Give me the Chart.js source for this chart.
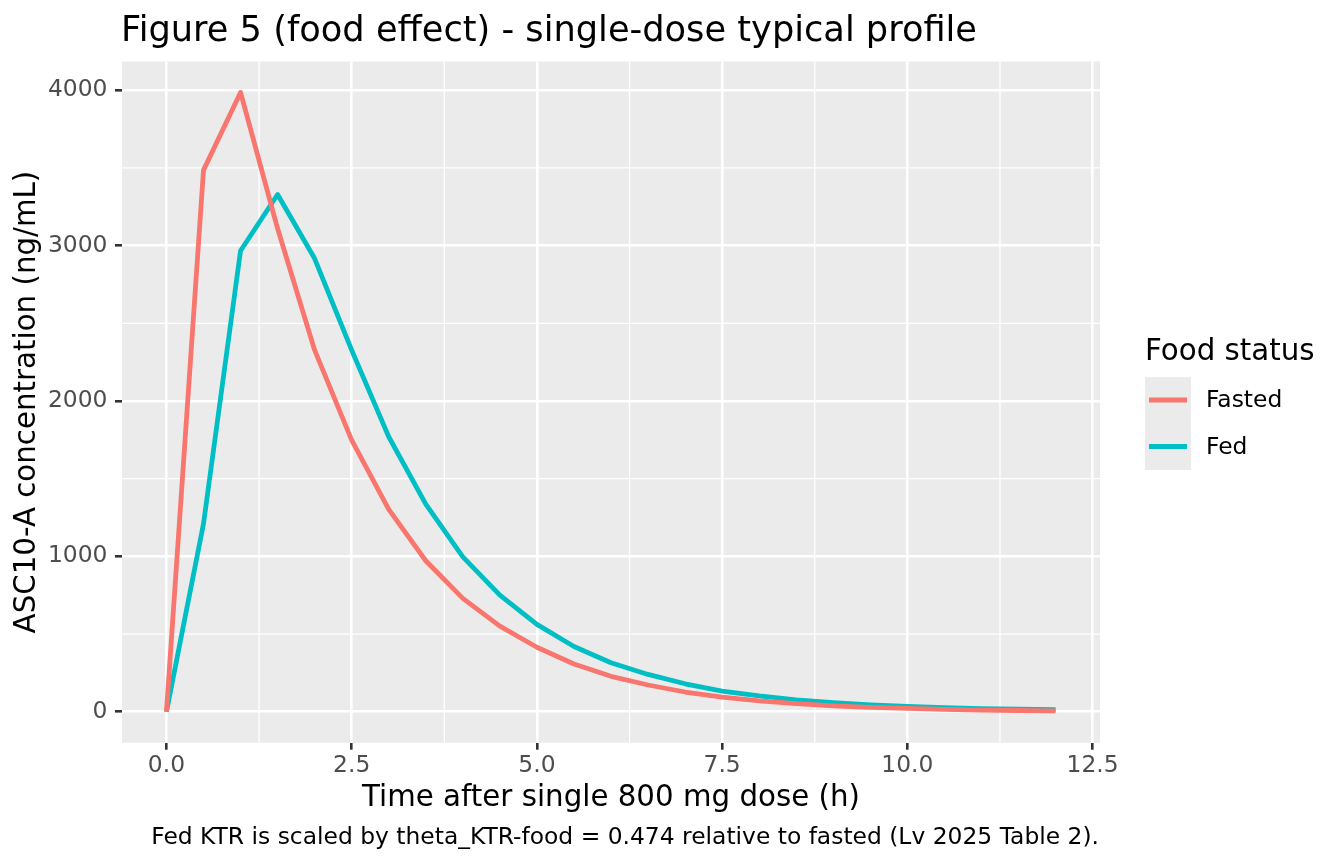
<!DOCTYPE html>
<html>
<head>
<meta charset="utf-8">
<title>Figure 5 (food effect)</title>
<script src="https://cdn.jsdelivr.net/npm/chart.js@4.4.1/dist/chart.umd.min.js"></script>
<style>
  html, body { margin: 0; padding: 0; background: #fff; }
  canvas { display: block; }
</style>
</head>
<body>
<canvas id="chart" width="1344" height="864"></canvas>
<script>
/* ===== data ===== */
const times = [0, 0.5, 1, 1.5, 2, 2.5, 3, 3.5, 4, 4.5, 5, 5.5, 6, 6.5, 7, 7.5, 8, 8.5, 9, 9.5, 10, 10.5, 11, 11.5, 12];
const fasted = [0, 3486, 3986, 3110, 2327, 1748, 1302, 972, 730, 551, 415, 307, 228, 172, 127, 94, 70, 52, 38, 28, 21, 15, 11, 8, 6];
const fed = [0, 1210, 2967, 3329, 2917, 2327, 1770, 1336, 997, 751, 562, 420, 315, 240, 180, 133, 102, 77, 58, 44, 34, 26, 20, 16, 13];

const seriesNames = ["Fasted", "Fed"];
const seriesColors = ["#F8766D", "#00BFC4"];

const xTicks = [0, 2.5, 5, 7.5, 10, 12.5];
const xMinor = [1.25, 3.75, 6.25, 8.75, 11.25];
const yTicks = [0, 1000, 2000, 3000, 4000];
const yMinor = [500, 1500, 2500, 3500];

const titleText = "Figure 5 (food effect) - single-dose typical profile";
const captionText = "Fed KTR is scaled by theta_KTR-food = 0.474 relative to fasted (Lv 2025 Table 2).";
const legendTitle = "Food status";

const FONT = "'DejaVu Sans', 'Noto Sans', sans-serif";
const PANEL = "#EBEBEB";
const SMALL = 23.4, MID = 29.3, BIG = 35.2;

const pts = arr => times.map((t, i) => ({ x: t, y: arr[i] }));

// ggplot 스타일: 패널 배경 + 보조 격자, 제목/캡션/범례
const ggDecor = {
  id: "ggDecor",
  beforeDraw(chart) {
    const { ctx, chartArea: a, scales: { x, y } } = chart;
    ctx.save();
    ctx.fillStyle = PANEL;
    ctx.fillRect(a.left, a.top, a.right - a.left, a.bottom - a.top);
    ctx.strokeStyle = "#fff";
    ctx.lineWidth = 1.3;
    ctx.beginPath();
    xMinor.forEach(v => { const px = x.getPixelForValue(v); ctx.moveTo(px, a.top); ctx.lineTo(px, a.bottom); });
    yMinor.forEach(v => { const py = y.getPixelForValue(v); ctx.moveTo(a.left, py); ctx.lineTo(a.right, py); });
    ctx.stroke();
    ctx.restore();
  },
  afterDraw(chart) {
    const { ctx, chartArea: a } = chart;
    ctx.save();
    ctx.fillStyle = "#000";
    ctx.textBaseline = "alphabetic";
    ctx.textAlign = "left";
    ctx.font = `${BIG}px ${FONT}`;
    ctx.fillText(titleText, a.left - 1, 41);

    ctx.font = `${SMALL}px ${FONT}`;
    ctx.textAlign = "right";
    ctx.fillText(captionText, a.right - 1, 843.5);

    // legend
    const lx = 1145;
    ctx.textAlign = "left";
    ctx.font = `${MID}px ${FONT}`;
    ctx.fillText(legendTitle, lx, 360);
    ctx.fillStyle = PANEL;
    ctx.fillRect(lx, 377, 46, 93);
    ctx.font = `${SMALL}px ${FONT}`;
    ctx.textBaseline = "middle";
    chart.data.datasets.forEach((ds, i) => {
      const cy = 400 + i * 46.5;
      ctx.strokeStyle = ds.borderColor;
      ctx.lineWidth = ds.borderWidth;
      ctx.beginPath();
      ctx.moveTo(lx + 4, cy);
      ctx.lineTo(lx + 42, cy);
      ctx.stroke();
      ctx.fillStyle = "#000";
      ctx.fillText(ds.label, 1206, cy + 1);
    });
    ctx.restore();
  }
};

new Chart(document.getElementById("chart"), {
  type: "line",
  data: {
    datasets: [
      { label: seriesNames[0], data: pts(fasted), borderColor: seriesColors[0] },
      { label: seriesNames[1], data: pts(fed), borderColor: seriesColors[1] },
    ].map(d => ({ ...d, borderWidth: 4.8, pointRadius: 0, tension: 0, fill: false,
                  borderJoinStyle: "round", borderCapStyle: "butt" }))
  },
  options: {
    responsive: false,
    animation: false,
    devicePixelRatio: 1,
    layout: { padding: { left: 0, top: 61.5, right: 244, bottom: 0 } },
    plugins: { legend: { display: false }, tooltip: { enabled: false } },
    scales: {
      x: {
        type: "linear", min: -0.6, max: 12.6,
        afterBuildTicks: s => { s.ticks = xTicks.map(v => ({ value: v })); },
        afterFit: s => { s.height = 864 - 742.7; },
        grid: { color: "#fff", lineWidth: 2.6, tickColor: "#333333", tickWidth: 2.6, tickLength: 7 },
        border: { display: false },
        ticks: { padding: 2.5, color: "#4D4D4D", font: { family: FONT, size: SMALL },
                 maxRotation: 0, autoSkip: false, callback: v => v.toFixed(1) },
        title: { display: true, text: "Time after single 800 mg dose (h)", color: "#000",
                 font: { family: FONT, size: MID }, padding: { top: 0, bottom: 48.4 } }
      },
      y: {
        type: "linear", min: -199.3, max: 4185.3,
        afterBuildTicks: s => { s.ticks = yTicks.map(v => ({ value: v })); },
        afterFit: s => { s.width = 122; },
        grid: { color: "#fff", lineWidth: 2.6, tickColor: "#333333", tickWidth: 2.6, tickLength: 7 },
        border: { display: false },
        ticks: { padding: 7.5, color: "#4D4D4D", font: { family: FONT, size: SMALL },
                 autoSkip: false, callback: v => String(v) },
        title: { display: true, text: "ASC10-A concentration (ng/mL)", color: "#000",
                 font: { family: FONT, size: MID }, padding: { top: 9.7, bottom: 0 } }
      }
    }
  },
  plugins: [ggDecor]
});
</script>
</body>
</html>
